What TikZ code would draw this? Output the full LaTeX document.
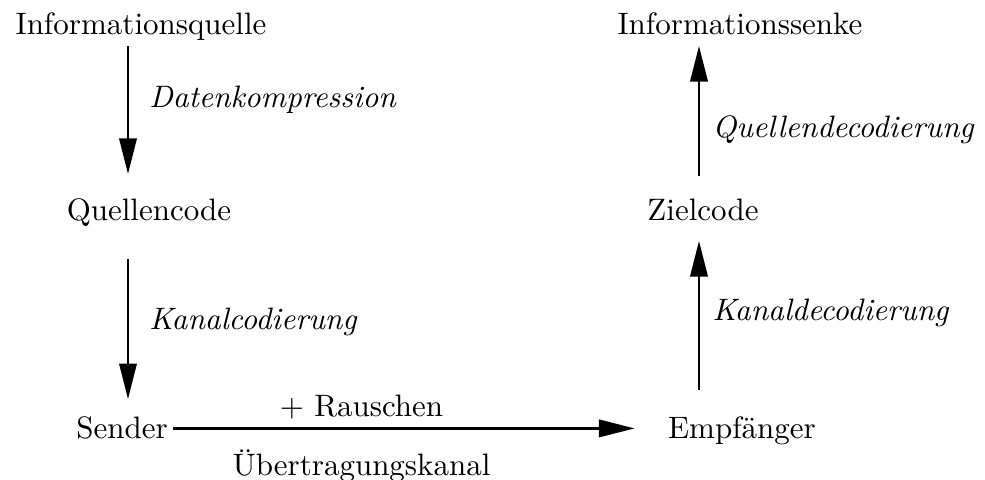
\documentclass[tikz,border=0pt]{standalone}
\usepackage{amsmath}
\usepackage{tikz}
\usetikzlibrary{arrows.meta, positioning}

\begin{document}
\begin{tikzpicture}[
  x=0.3226pt, y=-0.3226pt,
  lbl/.style={inner sep=0pt, anchor=base},
  tag/.style={inner sep=0pt, right=6.5pt, font=\itshape},
  rtag/.style={tag, right=4pt},
  arr/.style={-{Triangle[length=11.5pt, width=5.6pt]}, line width=0.8pt}
]
  \useasboundingbox (0,0) rectangle (985,480);

  % Sender side
  \node[lbl] (quelle) at (141,35)  {Informationsquelle};
  \node[lbl] (qcode)  at (149,221) {Quellencode};
  \node[lbl] (sender) at (122,439) {Sender};

  % Receiver side
  \node[lbl] (senke) at (740,35)  {Informationssenke};
  \node[lbl] (ziel)  at (703,221) {Zielcode};
  \node[lbl] (empf)  at (742,439) {Empf\"anger};

  \coordinate (lcol) at (128,0);
  \coordinate (rcol) at (699,0);

  \draw[arr, shorten <=1.3pt, shorten >=7.9pt] (quelle.south -| lcol) --
    node[tag, pos=0.37] {Datenkompression} (qcode.north -| lcol);
  \draw[arr, shorten <=10pt, shorten >=5.6pt] (qcode.south -| lcol) --
    node[tag, pos=0.5] {Kanalcodierung} (sender.north -| lcol);

  \draw[arr, shorten <=1.6pt, shorten >=10.6pt] (sender.east) --
    node[pos=0.387, above=2.5pt, inner sep=0pt] {$+$ Rauschen}
    node[pos=0.387, below=6.5pt, inner sep=0pt] {\"Ubertragungskanal}
    (sender.east -| empf.west);

  \draw[arr, shorten <=8.5pt, shorten >=6.1pt] (empf.north -| rcol) --
    node[rtag, pos=0.53] {Kanaldecodierung} (ziel.south -| rcol);
  \draw[arr, shorten <=7.3pt, shorten >=3.2pt] (ziel.north -| rcol) --
    node[rtag, pos=0.426] {Quellendecodierung} (senke.south -| rcol);

\end{tikzpicture}
\end{document}
